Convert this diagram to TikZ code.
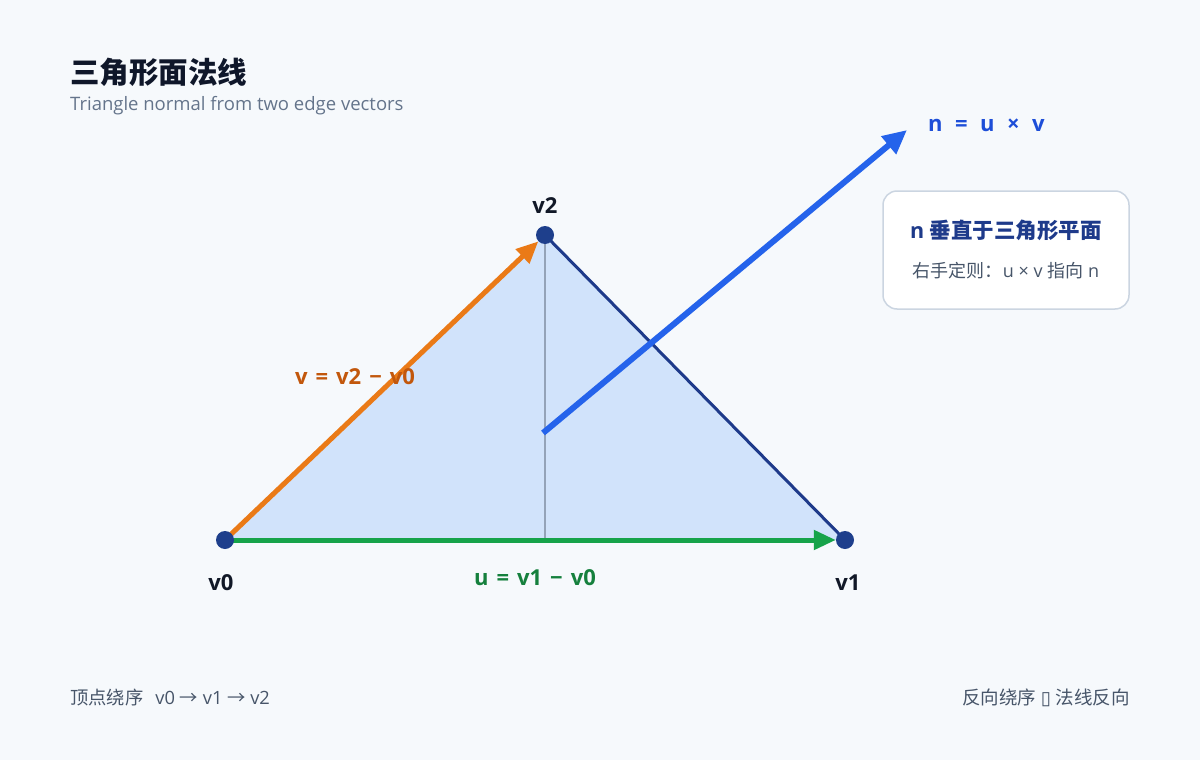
\documentclass[tikz,border=0pt]{standalone}
\usepackage{fontspec}
\setmainfont{Open Sans}
\newfontfamily\cjk{Noto Sans CJK SC}
\newfontfamily\sym{DejaVu Sans}
\usetikzlibrary{arrows.meta}
\pgfdeclarelayer{back}
\pgfdeclarelayer{bg}
\pgfsetlayers{back,bg,main}
\definecolor{bgc}{HTML}{F6F9FC}
\definecolor{trifill}{HTML}{D1E3FB}
\definecolor{navy}{HTML}{1E3A8A}
\definecolor{vdot}{HTML}{1E3F8C}
\definecolor{gline}{HTML}{16A34A}
\definecolor{gtext}{HTML}{15803D}
\definecolor{oline}{HTML}{EA7A17}
\definecolor{otext}{HTML}{C2570C}
\definecolor{bline}{HTML}{2563EB}
\definecolor{btext}{HTML}{1D4ED8}
\definecolor{grayline}{HTML}{94A3B8}
\definecolor{boxedge}{HTML}{CBD5E1}
\definecolor{titlec}{HTML}{0F172A}
\definecolor{subc}{HTML}{64748B}
\definecolor{bodyc}{HTML}{475569}
\definecolor{vlab}{HTML}{111827}
\newcommand{\gp}{\hspace{8pt}}
\newcommand{\gq}{\hspace{12.5pt}}
\tikzset{
  vdotstyle/.style={circle,fill=vdot,inner sep=0pt,minimum size=18pt},
  lblfont/.style={font=\fontsize{22}{26}\selectfont\bfseries},
  vlabel/.style={lblfont,text=vlab},
  vecarrow/.style={line width=5pt,-{Triangle[length=22pt,width=19pt]}},
  infobox/.style={draw=boxedge,line width=1.5pt,fill=white,rounded corners=14pt,minimum width=246pt,minimum height=118pt},
}
\begin{document}
\begin{tikzpicture}[x=1pt,y=-1pt]
\begin{pgfonlayer}{back}
\fill[bgc] (0,0) rectangle (1200,760);
\end{pgfonlayer}
\useasboundingbox (0,0) rectangle (1200,760);
% vertices
\node[vdotstyle] (v0) at (225,540) {};
\node[vdotstyle] (v1) at (845,540) {};
\node[vdotstyle] (v2) at (545,235) {};
\coordinate (foot) at (545,540);
\coordinate (n0) at (543,433);
\coordinate (n1) at (907,130);
\begin{pgfonlayer}{bg}
\fill[trifill] (v0.center) -- (v1.center) -- (v2.center) -- cycle;
\draw[grayline,line width=1.5pt] (v2.center) -- (foot);
\draw[navy,line width=3pt] (v2.center) -- (v1.center);
\draw[vecarrow,gline] (v0.center) -- (v1);
\draw[vecarrow,oline] (v0.center) -- (v2);
\draw[bline,line width=6pt,-{Triangle[length=24pt,width=22pt]}] (n0) -- (n1);
\end{pgfonlayer}
% labels
\node[vlabel] (l2) at (545,206) {v2};
\node[vlabel] (l0) at (221,583) {v0};
\node[vlabel] (l1) at (848,583) {v1};
\node[lblfont,text=otext] (lv) at (355,377) {v\gp=\gp v2\gp−\gp v0};
\node[lblfont,text=gtext] (lu) at (535,578) {u\gp=\gp v1\gp−\gp v0};
\node[lblfont,text=btext,anchor=west,inner sep=0pt] (ln) at (928,125) {n\gq=\gq u\gq×\gq v};
% title
\node[anchor=west,inner sep=0pt,text=titlec,font=\fontsize{29.5}{33}\selectfont\bfseries\cjk] (title) at (70,72) {三角形面法线};
\node[anchor=west,inner sep=0pt,text=subc,font=\fontsize{18.5}{22}\selectfont] (sub) at (70,105.5) {Triangle normal from two edge vectors};
% info box
\node[infobox] (box) at (1006,250) {};
\node[text=navy,font=\fontsize{21.5}{25}\selectfont\bfseries] (bt) at (1006,230) {n {\cjk 垂直于三角形平面}};
\node[text=bodyc,font=\fontsize{18}{22}\selectfont] (bs) at (1006,271) {{\cjk 右手定则：}u × v {\cjk 指向} n};
% bottom notes
\node[anchor=west,inner sep=0pt,text=bodyc,font=\fontsize{18.3}{22}\selectfont] (nl) at (70,698) {{\cjk 顶点绕序}\hspace{12pt}v0 {\cjk →} v1 {\cjk →} v2};
\node[anchor=east,inner sep=0pt,text=bodyc,font=\fontsize{18.5}{22}\selectfont] (nr) at (1130,698) {{\cjk 反向绕序} {\sym ▯} {\cjk 法线反向}};
\end{tikzpicture}
\end{document}
